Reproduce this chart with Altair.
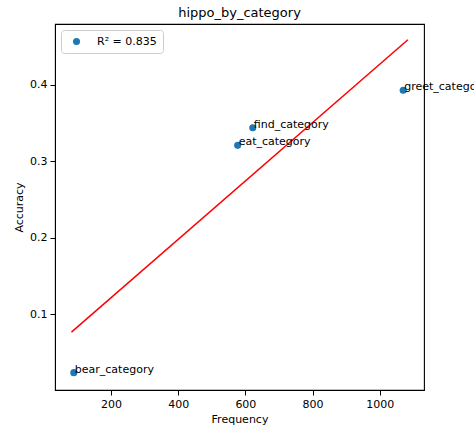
import altair as alt
import pandas as pd

# Per-category frequency vs. accuracy
categories = ["bear_category", "eat_category", "find_category", "greet_category"]
frequency = [89, 577, 622, 1070]
accuracy = [0.024, 0.321, 0.344, 0.393]
r_squared = 0.835

# Range over which the fitted line is drawn
fit_extent = [82, 1084]

x_ticks = [200, 400, 600, 800, 1000]
y_ticks = [0.1, 0.2, 0.3, 0.4]

FONT = "DejaVu Sans"

df = pd.DataFrame({
    "category": categories,
    "frequency": frequency,
    "accuracy": accuracy,
    "series": [f"R² = {r_squared}"] * len(categories),
})

axis_style = dict(
    grid=False,
    labelFont=FONT,
    titleFont=FONT,
    labelFontSize=11,
    titleFontSize=11,
    titleFontWeight="normal",
    labelColor="black",
    titleColor="black",
    domainColor="black",
    tickColor="black",
    tickSize=5,
    labelPadding=3,
)

x_enc = alt.X(
    "frequency:Q",
    title="Frequency",
    scale=alt.Scale(domain=[33, 1132], nice=False, zero=False),
    axis=alt.Axis(values=x_ticks, format="d", titlePadding=4, **axis_style),
)
y_enc = alt.Y(
    "accuracy:Q",
    title="Accuracy",
    scale=alt.Scale(domain=[0.0013, 0.4796], nice=False, zero=False),
    axis=alt.Axis(values=y_ticks, format=".1f", titlePadding=5, **axis_style),
)

base = alt.Chart(df)

points = base.mark_circle(size=50, opacity=1).encode(
    x=x_enc,
    y=y_enc,
    color=alt.Color(
        "series:N",
        scale=alt.Scale(range=["#1f77b4"]),
        legend=alt.Legend(
            title=None,
            orient="none",
            legendX=6,
            legendY=6,
            fillColor="white",
            strokeColor="#cccccc",
            cornerRadius=3,
            padding=6,
            symbolType="circle",
            symbolSize=50,
            symbolOffset=4,
            symbolStrokeWidth=0,
            labelOffset=15,
            labelFontSize=11,
            labelFont=FONT,
            labelColor="black",
        ),
    ),
)

fit = base.transform_regression(
    "frequency", "accuracy", extent=fit_extent
).mark_line(color="red", strokeWidth=1.5).encode(
    x=alt.X("frequency:Q"),
    y=alt.Y("accuracy:Q"),
)

labels = base.mark_text(
    align="left", baseline="alphabetic", fontSize=11, font=FONT, color="black", dx=1
).encode(
    x=alt.X("frequency:Q"),
    y=alt.Y("accuracy:Q"),
    text="category:N",
)

chart = (
    alt.layer(fit, points, labels)
    .properties(
        width=369,
        height=366,
        title=alt.TitleParams("hippo_by_category", fontSize=13, font=FONT, fontWeight="normal", color="black", offset=4),
        autosize=alt.AutoSizeParams(type="none"),
        padding={"left": 55, "top": 24, "right": 50, "bottom": 40},
        view=alt.ViewBackground(stroke="#000000", strokeWidth=1.1, strokeOpacity=1, fill="white"),
    )
    .configure(background="white")
)

chart.save("out.html", embed_options={"renderer": "svg", "actions": False})
